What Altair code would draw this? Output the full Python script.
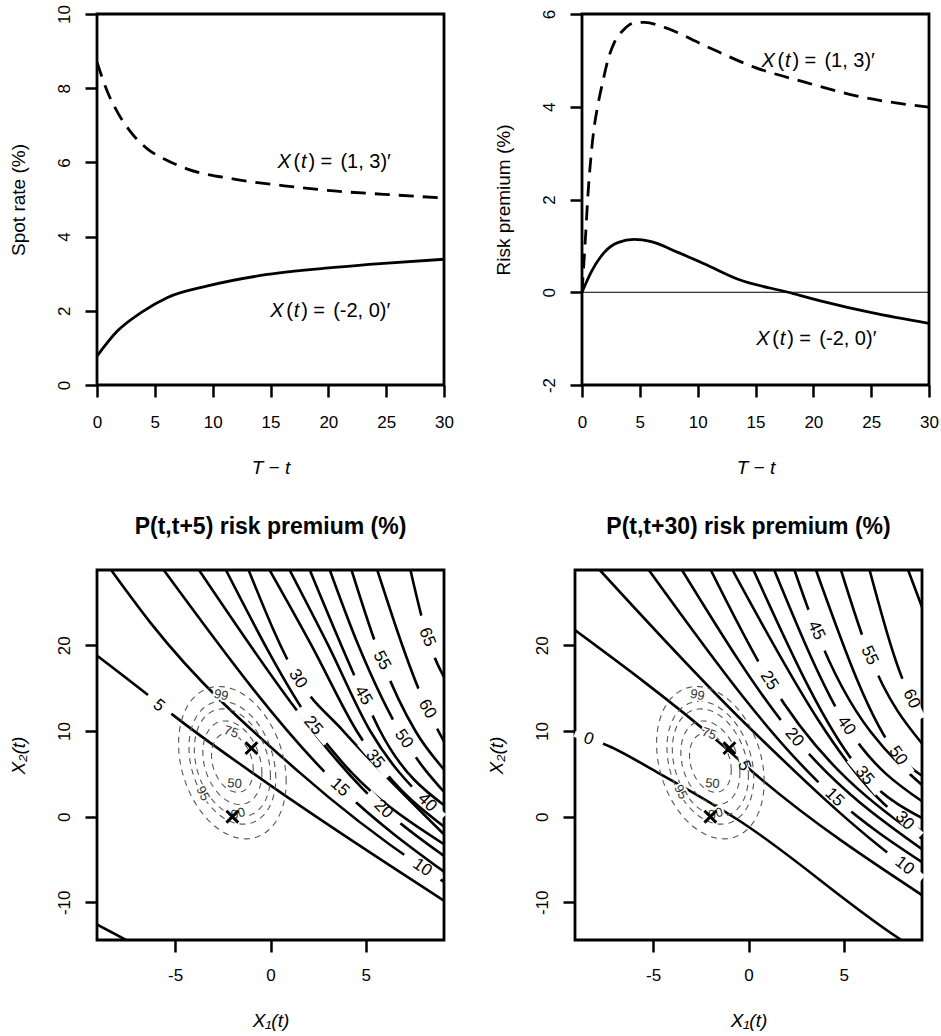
import altair as alt
import numpy as np
import pandas as pd

FONT = "Liberation Sans"
W, HT, HB = 347, 371, 370

# ---------------- Top-left: spot rate ----------------
spot_dash_t = [0, 0.92, 1.78, 2.94, 4.38, 5.82, 7.83, 11.86, 16.18, 20.5, 24.8, 30]
spot_dash_y = [8.70, 7.89, 7.35, 6.81, 6.36, 6.09, 5.82, 5.55, 5.37, 5.23, 5.14, 5.04]
spot_solid_t = [0, 1.78, 3.8, 6.1, 9.56, 14.74, 20.5, 24.8, 30]
spot_solid_y = [0.78, 1.46, 1.95, 2.36, 2.67, 2.98, 3.17, 3.28, 3.39]
spot_lab_t = [15.6, 14.97]
spot_lab_y = [6.0, 2.0]
spot_lab_rest = ["(1, 3)\u2032", "(-2, 0)\u2032"]

# ---------------- Top-right: risk premium ----------------
rp_dash_t = [0, 0.29, 0.49, 0.78, 1.07, 1.36, 1.79, 2.22, 2.8, 3.52, 4.53, 5.4, 7.13, 10.6, 14.93, 19.26, 23.6, 30]
rp_dash_y = [0, 1.14, 2.01, 2.94, 3.59, 4.02, 4.53, 4.99, 5.39, 5.64, 5.81, 5.82, 5.71, 5.32, 4.85, 4.53, 4.24, 3.99]
rp_solid_t = [0, 0.78, 1.93, 3.09, 4.53, 5.98, 8.29, 10.6, 13.49, 17.82, 20.7, 25.04, 30]
rp_solid_y = [0, 0.43, 0.86, 1.07, 1.14, 1.09, 0.86, 0.61, 0.28, 0.0, -0.19, -0.44, -0.67]
rp_lab_t = [15.51, 15.07]
rp_lab_y = [4.99, -1.01]
rp_lab_rest = ["(1, 3)\u2032", "(-2, 0)\u2032"]

# ---------------- Bottom-left: P(t,t+5) contours ----------------
bl_lines = {
    0: ([-9.3, -7.4], [-12.35, -14.6]),
    5: ([-9.3, -6.39, -5.07, -1.0, 9.3], [19.15, 14.15, 11.8, 5.2, -10.1]),
    10: ([-8.36, -6.28, 1.5, 7.96, 9.3], [28.8, 22.6, 5.2, -5.93, -7.9]),
    15: ([-5.6, 3.64, 9.3], [28.8, 3.43, -6.75]),
    20: ([-3.75, 5.93, 9.3], [28.8, 0.89, -4.9]),
    25: ([-2.34, 2.24, 9.3], [28.8, 10.64, -3.5]),
    30: ([-1.15, 1.44, 3.82, 9.3], [28.8, 16.1, 10, -2.5]),
    35: ([-0.05, 2.15, 4.52, 5.49, 9.3], [28.8, 20, 10, 6.74, -1.5]),
    40: ([1.0, 3.03, 5.23, 8.22, 9.3], [28.8, 20, 10, 1.67, -0.5]),
    45: ([2.06, 4.87, 5.75, 9.3], [28.8, 14.15, 10, 1.0]),
    50: ([3.11, 4.61, 6.99, 9.3], [28.8, 20, 9.08, 2.4]),
    55: ([4.25, 5.84, 7.6, 9.3], [28.8, 18.24, 10, 5.0]),
    60: ([5.6, 8.22, 9.3], [28.8, 12.58, 8.0]),
    65: ([7.34, 8.22, 9.3], [28.8, 20.97, 15.5]),
}
bl_lab_x = [-5.86, 7.96, 3.64, 5.93, 2.24, 1.44, 5.49, 8.22, 4.87, 6.99, 5.84, 8.22, 8.22]
bl_lab_y = [12.98, -5.93, 3.43, 0.89, 10.64, 16.1, 6.74, 1.67, 14.15, 9.08, 18.24, 12.58, 20.97]
bl_lab_txt = ["5", "10", "15", "20", "25", "30", "35", "40", "45", "50", "55", "60", "65"]
bl_lab_ang = [39, 35, 42, 45, 50, 57, 50, 45, 60, 55, 62, 60, 68]

# ---------------- Bottom-right: P(t,t+30) contours ----------------
br_lines = {
    0: ([-9.3, -7.59, -4.79, -0.6, 8.02, 8.3], [9.6, 8.49, 5.18, -0.3, -14.4, -14.8]),
    5: ([-9.3, -1.45, 0.44, 9.3], [22.1, 8.5, 4.8, -9.45]),
    10: ([-7.8, 0.0, 8.19, 9.3], [28.8, 10.5, -5.73, -7.5]),
    15: ([-5.23, 4.51, 9.3], [28.8, 2.26, -5.6]),
    20: ([-3.49, 2.41, 9.3], [28.8, 9.27, -4.1]),
    25: ([-1.98, 1.09, 9.3], [28.8, 15.9, -2.9]),
    30: ([-0.84, 8.19, 9.3], [28.8, -0.47, -1.9]),
    35: ([0.26, 6.09, 9.3], [28.8, 4.8, -0.4]),
    40: ([1.35, 5.13, 9.3], [28.8, 10.64, 1.5]),
    45: ([2.41, 3.55, 9.3], [28.8, 21.75, 3.3]),
    50: ([3.54, 7.84, 9.3], [28.8, 7.13, 4.5]),
    55: ([4.85, 6.35, 9.3], [28.8, 18.83, 8.0]),
    60: ([6.35, 8.55, 9.3], [28.8, 13.76, 11.5]),
    65: ([8.37, 9.3], [28.8, 23.3]),
}
br_lab_x = [-8.38, -0.23, 8.19, 4.51, 2.41, 1.09, 8.19, 6.09, 5.13, 3.55, 7.84, 6.35, 8.55]
br_lab_y = [9.08, 5.96, -5.73, 2.26, 9.27, 15.9, -0.47, 4.8, 10.64, 21.75, 7.13, 18.83, 13.76]
br_lab_txt = ["0", "5", "10", "15", "20", "25", "30", "35", "40", "45", "50", "55", "60"]
br_lab_ang = [20, 70, 38, 45, 50, 57, 45, 50, 55, 65, 55, 65, 65]

# ---------------- Stationary-distribution ellipses ----------------
ell_levels = ["50", "75", "90", "95", "99"]
ell_scale = [1.177, 1.665, 2.146, 2.448, 3.035]
ell_center = (-2.0, 6.3)
ell_sd = (0.93, 2.93)
ell_rho = -0.25
ell_lab_x_l = [-1.88, -2.06, -1.7, -3.55, -2.59]
ell_lab_y_l = [3.86, 9.9, 0.35, 2.69, 14.19]
ell_lab_x_r = [-1.89, -2.07, -1.72, -3.56, -2.68]
ell_lab_y_r = [3.86, 9.7, 0.35, 2.88, 14.19]
ell_lab_ang = [5, 18, 345, 62, 12]

cross_x = [-1.0, -2.0]
cross_y = [8.0, 0.0]

# ====================================================================
MINUS_FIX = "replace(datum.label, '\u2212', '-')"
GAP_PATH = "M-1,-0.22L1,-0.22L1,0.22L-1,0.22Z"
CROSS_PATH = "M-1,-1L1,1M-1,1L1,-1"


def xax(vals, title, pad, ty):
    return alt.Axis(values=vals, title=title, grid=False, domain=False, ticks=True,
                    tickSize=12, tickWidth=2.5, tickColor="black",
                    labelFont=FONT, labelFontSize=17, labelColor="black",
                    labelPadding=pad, labelBaseline="middle", labelFlush=False,
                    labelOverlap=False, labelExpr=MINUS_FIX,
                    titleFont=FONT, titleFontSize=19, titleFontStyle="italic",
                    titleFontWeight="normal", titleColor="black",
                    titleY=ty, titleBaseline="middle")


def yax(vals, title, h, italic=False):
    return alt.Axis(values=vals, title=title, grid=False, domain=False, ticks=True,
                    tickSize=12, tickWidth=2.5, tickColor="black",
                    labelFont=FONT, labelFontSize=17, labelColor="black",
                    labelAngle=270, labelAlign="center", labelBaseline="alphabetic",
                    labelPadding=15.7, labelFlush=False, labelOverlap=False,
                    labelExpr=MINUS_FIX,
                    titleFont=FONT, titleFontSize=19, titleColor="black",
                    titleFontWeight="normal",
                    titleFontStyle="italic" if italic else "normal",
                    titleAngle=270, titleX=-79, titleY=h / 2,
                    titleBaseline="middle", titleAlign="center")


def line_df(t, y, s):
    return pd.DataFrame({"x": t, "y": y, "s": s, "o": list(range(len(t)))})


def top_panel(dash_t, dash_y, solid_t, solid_y, lab_t, lab_y, lab_rest,
              ydom, yvals, ytitle, zero_line=False):
    xs = alt.Scale(domain=[0, 30], nice=False, zero=False)
    ys = alt.Scale(domain=ydom, nice=False, zero=False)
    X = alt.X("x:Q", scale=xs, axis=xax([0, 5, 10, 15, 20, 25, 30], "T \u2212 t", 25, 82))
    Y = alt.Y("y:Q", scale=ys, axis=yax(yvals, ytitle, HT))
    d1 = line_df(dash_t, dash_y, "d")
    d2 = line_df(solid_t, solid_y, "s")
    layers = []
    if zero_line:
        layers.append(alt.Chart(pd.DataFrame({"y": [0]})).mark_rule(
            color="black", strokeWidth=1).encode(y=alt.Y("y:Q", scale=ys)))
    layers.append(alt.Chart(d1).mark_line(color="black", strokeWidth=2.8,
                                          strokeDash=[15, 9], interpolate="monotone",
                                          clip=True).encode(x=X, y=Y, order="o:Q"))
    layers.append(alt.Chart(d2).mark_line(color="black", strokeWidth=2.8,
                                          interpolate="monotone",
                                          clip=True).encode(x=X, y=Y, order="o:Q"))
    lab = pd.DataFrame({"x": lab_t, "y": lab_y, "rest": lab_rest})
    pieces = [("X", "italic", 0), ("(", "normal", 16), ("t", "italic", 23.5),
              (")", "normal", 31), ("=", "normal", 43)]
    for txt, sty, dx in pieces:
        layers.append(alt.Chart(lab).mark_text(
            text=txt, font=FONT, fontSize=20, fontStyle=sty, align="left",
            baseline="middle", dx=dx, color="black").encode(
            x=alt.X("x:Q", scale=xs), y=alt.Y("y:Q", scale=ys)))
    layers.append(alt.Chart(lab).mark_text(
        font=FONT, fontSize=20, align="left", baseline="middle", dx=63,
        color="black").encode(x=alt.X("x:Q", scale=xs), y=alt.Y("y:Q", scale=ys),
                              text="rest:N"))
    return alt.layer(*layers).properties(width=W, height=HT)


def ellipse_df():
    rows = []
    cx, cy = ell_center
    s1, s2 = ell_sd
    th = np.linspace(0, 2 * np.pi, 121)
    for lev, c in zip(ell_levels, ell_scale):
        u = np.cos(th)
        v = np.sin(th)
        ex = cx + c * s1 * u
        ey = cy + c * s2 * (ell_rho * u + np.sqrt(1 - ell_rho ** 2) * v)
        for i, (a, b) in enumerate(zip(ex, ey)):
            rows.append({"x": a, "y": b, "lev": lev, "o": i})
    return pd.DataFrame(rows)


def bottom_panel(lines, lab_x, lab_y, lab_txt, lab_ang, elx, ely, title):
    xs = alt.Scale(domain=[-9.1, 9.1], nice=False, zero=False)
    ys = alt.Scale(domain=[-14.4, 28.8], nice=False, zero=False)
    X = alt.X("x:Q", scale=xs, axis=xax([-5, 0, 5], "X\u2081(t)", 23, 80))
    Y = alt.Y("y:Q", scale=ys, axis=yax([-10, 0, 10, 20], "X\u2082(t)", HB, italic=True))
    Xn = alt.X("x:Q", scale=xs)
    Yn = alt.Y("y:Q", scale=ys)
    rows = []
    for lev, (xx, yy) in lines.items():
        for i, (a, b) in enumerate(zip(xx, yy)):
            rows.append({"x": a, "y": b, "lev": lev, "o": i})
    cdf = pd.DataFrame(rows)
    gap = [44 * 44 if len(t) > 1 else 30 * 30 for t in lab_txt]
    lab = pd.DataFrame({"x": lab_x, "y": lab_y, "t": lab_txt, "a": lab_ang, "g": gap})
    elab = pd.DataFrame({"x": elx, "y": ely, "t": ell_levels, "a": ell_lab_ang})
    cr = pd.DataFrame({"x": cross_x, "y": cross_y})
    layers = [
        alt.Chart(cdf).mark_line(color="black", strokeWidth=2.6, interpolate="monotone",
                                 clip=True).encode(x=X, y=Y, detail="lev:N", order="o:Q"),
        alt.Chart(lab).mark_point(shape=GAP_PATH, filled=True, color="white",
                                  opacity=1, strokeWidth=0).encode(
            x=Xn, y=Yn, angle=alt.Angle("a:Q", scale=None),
            size=alt.Size("g:Q", scale=None)),
        alt.Chart(lab).mark_text(font=FONT, fontSize=17, color="black").encode(
            x=Xn, y=Yn, text="t:N", angle=alt.Angle("a:Q", scale=None)),
        alt.Chart(ellipse_df()).mark_line(color="#555555", strokeWidth=1.1,
                                          strokeDash=[6, 5], clip=True).encode(
            x=Xn, y=Yn, detail="lev:N", order="o:Q"),
        alt.Chart(elab).mark_text(font=FONT, fontSize=13, color="white", stroke="white",
                                  strokeWidth=4).encode(
            x=Xn, y=Yn, text="t:N", angle=alt.Angle("a:Q", scale=None)),
        alt.Chart(elab).mark_text(font=FONT, fontSize=13, color="#333333").encode(
            x=Xn, y=Yn, text="t:N", angle=alt.Angle("a:Q", scale=None)),
        alt.Chart(cr).mark_point(shape=CROSS_PATH, size=140, filled=False,
                                 color="black", strokeWidth=3, opacity=1).encode(x=Xn, y=Yn),
    ]
    return alt.layer(*layers).properties(
        width=W, height=HB,
        title=alt.TitleParams(title, font=FONT, fontSize=23, fontWeight="bold",
                              color="black", anchor="middle", frame="group",
                              baseline="middle", offset=20))


tl = top_panel(spot_dash_t, spot_dash_y, spot_solid_t, spot_solid_y, spot_lab_t,
               spot_lab_y, spot_lab_rest, [0, 10], [0, 2, 4, 6, 8, 10], "Spot rate (%)")
tr = top_panel(rp_dash_t, rp_dash_y, rp_solid_t, rp_solid_y, rp_lab_t, rp_lab_y,
               rp_lab_rest, [-2, 6], [-2, 0, 2, 4, 6], "Risk premium (%)", zero_line=True)
bl = bottom_panel(bl_lines, bl_lab_x, bl_lab_y, bl_lab_txt, bl_lab_ang,
                  ell_lab_x_l, ell_lab_y_l, "P(t,t+5) risk premium (%)")
br = bottom_panel(br_lines, br_lab_x, br_lab_y, br_lab_txt, br_lab_ang,
                  ell_lab_x_r, ell_lab_y_r, "P(t,t+30) risk premium (%)")

row1 = alt.hconcat(tl, tr, spacing=37)
row2 = alt.hconcat(bl, br, spacing=37)
chart = alt.vconcat(row1, row2, spacing=35).properties(
    padding={"left": 7, "top": 3, "right": 0, "bottom": 0},
    background="white",
).configure_view(stroke="black", strokeWidth=2.8)

chart.save("out.html", embed_options={"renderer": "svg", "actions": False})
